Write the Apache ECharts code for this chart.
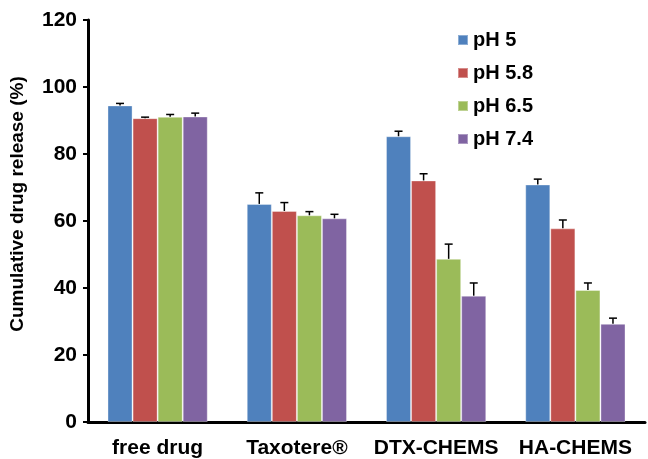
<!DOCTYPE html>
<html><head><meta charset="utf-8">
<script src="https://cdn.jsdelivr.net/npm/echarts@6/dist/echarts.min.js"></script>
<style>html,body{margin:0;padding:0;background:#fff}#c{width:648px;height:459px}</style>
</head><body><div id="c"></div>
<script>
var categories = ['free drug', 'Taxotere®', 'DTX-CHEMS', 'HA-CHEMS'];
var seriesNames = ['pH 5', 'pH 5.8', 'pH 6.5', 'pH 7.4'];
var pH5 = [94.5, 65.1, 85.3, 70.9];
var pH58 = [90.7, 63.0, 72.1, 57.8];
var pH65 = [91.1, 61.7, 48.7, 39.4];
var pH74 = [91.2, 60.8, 37.7, 29.3];
var err5 = [0.6, 3.3, 1.5, 1.6];
var err58 = [0.3, 2.5, 2.0, 2.5];
var err65 = [0.7, 1.1, 4.4, 2.1];
var err74 = [1.0, 1.2, 3.8, 1.7];
var yTicks = [0, 20, 40, 60, 80, 100, 120];

var values = [pH5, pH58, pH65, pH74];
var errs = [err5, err58, err65, err74];
var colors = ['#4F81BD', '#C0504D', '#9BBB59', '#8064A2'];
var catGap = 0.28;
var nS = values.length;

var series = [];
values.forEach(function (v, i) {
  series.push({
    name: seriesNames[i], type: 'bar', data: v, barGap: 0, barCategoryGap: (catGap * 100) + '%',
    itemStyle: { color: colors[i], borderColor: 'rgba(255,255,255,0.35)', borderWidth: 1 }
  });
});
values.forEach(function (v, i) {
  series.push({
    type: 'custom', name: seriesNames[i], z: 10, silent: true,
    data: v.map(function (val, k) { return [k, val, val + errs[i][k]]; }),
    renderItem: function (params, api) {
      var band = api.size([1, 0])[0];
      var bw = band * (1 - catGap) / nS;
      var off = (i - (nS - 1) / 2) * bw;
      var p0 = api.coord([api.value(0), api.value(1)]);
      var p1 = api.coord([api.value(0), api.value(2)]);
      var x = p0[0] + off;
      var cap = 4;
      var st = { stroke: '#000', lineWidth: 1.5 };
      return { type: 'group', children: [
        { type: 'line', shape: { x1: x, y1: p0[1], x2: x, y2: p1[1] }, style: st },
        { type: 'line', shape: { x1: x - cap, y1: p1[1], x2: x + cap, y2: p1[1] }, style: st }
      ] };
    }
  });
});

var chart = echarts.init(document.getElementById('c'), null, { renderer: 'canvas' });
chart.setOption({
  animation: false,
  textStyle: { fontFamily: 'Liberation Sans, Arial, sans-serif' },
  grid: { left: 85, right: 3, top: 20, bottom: 37 },
  legend: {
    data: seriesNames, orient: 'vertical', left: 457, top: 30, padding: 0,
    itemWidth: 10, itemHeight: 10, itemGap: 13, icon: 'rect',
    textStyle: { fontSize: 20, fontWeight: 'bold', color: '#000', lineHeight: 20 }
  },
  xAxis: {
    type: 'category', data: categories,
    axisLine: { lineStyle: { color: '#000', width: 3 } },
    axisTick: { show: false },
    axisLabel: { color: '#000', fontSize: 21, fontWeight: 'bold', margin: 16, interval: 0 }
  },
  yAxis: {
    type: 'value', min: yTicks[0], max: yTicks[yTicks.length - 1], interval: 20,
    name: 'Cumulative drug release (%)', nameLocation: 'middle', nameGap: 61, nameRotate: 90,
    nameTextStyle: { color: '#000', fontSize: 19, fontWeight: 'bold', padding: [0, 0, 0, 34] },
    axisLine: { show: true, lineStyle: { color: '#000', width: 3 } },
    axisTick: { show: true, inside: false, length: 5, lineStyle: { color: '#000', width: 2 } },
    axisLabel: { color: '#000', fontSize: 21, fontWeight: 'bold', margin: 11 },
    splitLine: { show: false }
  },
  series: series
});
</script>
</body></html>
